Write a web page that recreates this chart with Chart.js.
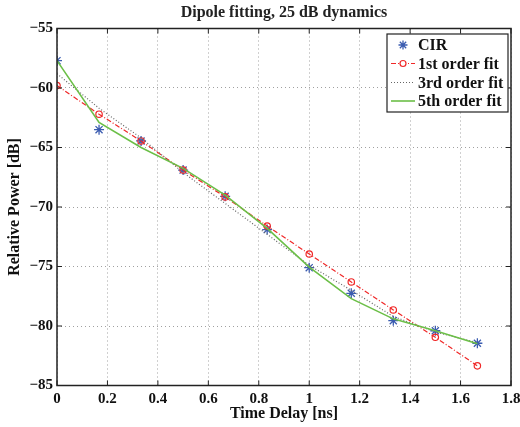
<!DOCTYPE html>
<html>
<head>
<meta charset="utf-8">
<script src="https://cdn.jsdelivr.net/npm/chart.js@4/dist/chart.umd.min.js"></script>
<style>
  html, body { margin: 0; padding: 0; background: #fff; }
  #wrap { width: 520px; height: 427px; }
</style>
</head>
<body>
<div id="wrap"><canvas id="chart" width="520" height="427"></canvas></div>
<script>
// time delays [ns]
const delays = [0, 0.1667, 0.3333, 0.5, 0.6667, 0.8333, 1.0, 1.1667, 1.3333, 1.5, 1.6667];
// relative power [dB]
const cir = [-57.7, -63.5, -64.45, -66.9, -69.1, -71.9, -75.1, -77.25, -79.55, -80.4, -81.45];
const fit1 = [-59.8, -62.2, -64.45, -66.9, -69.15, -71.6, -73.95, -76.3, -78.65, -80.95, -83.35];
const fit3 = [-58.8, -61.7, -64.2, -67.1, -69.7, -72.3, -74.9, -77.0, -79.2, -80.5, -81.4];
const fit5 = [-57.7, -62.9, -65.0, -66.75, -69.0, -71.8, -75.05, -77.7, -79.4, -80.4, -81.5];
const xTicks = [0, 0.2, 0.4, 0.6, 0.8, 1, 1.2, 1.4, 1.6, 1.8];
const yTicks = [-85, -80, -75, -70, -65, -60, -55];

const serif = '"Liberation Serif", "DejaVu Serif", serif';
const blue = '#3b5cb0';
const red = '#f02828';
const gray = '#666666';
const green = '#6cbf48';

const pts = vals => vals.map((v, i) => ({ x: delays[i], y: v }));

// frame, inward ticks and legend
const framePlugin = {
    id: 'frame',
    afterDraw(chart) {
        const { ctx, chartArea: a, scales } = chart;
        ctx.save();
        ctx.strokeStyle = '#222';
        ctx.lineWidth = 1.5;
        ctx.strokeRect(a.left, a.top, a.right - a.left, a.bottom - a.top);
        ctx.lineWidth = 1;
        ctx.beginPath();
        xTicks.forEach(t => {
            const px = scales.x.getPixelForValue(t);
            ctx.moveTo(px, a.bottom); ctx.lineTo(px, a.bottom - 5);
            ctx.moveTo(px, a.top); ctx.lineTo(px, a.top + 5);
        });
        yTicks.forEach(t => {
            const py = scales.y.getPixelForValue(t);
            ctx.moveTo(a.left, py); ctx.lineTo(a.left + 5, py);
            ctx.moveTo(a.right, py); ctx.lineTo(a.right - 5, py);
        });
        ctx.stroke();

        // legend box
        const bx = 387, by = 34, bw = 121, bh = 78;
        ctx.fillStyle = '#fff';
        ctx.fillRect(bx, by, bw, bh);
        ctx.strokeStyle = '#222';
        ctx.lineWidth = 1.2;
        ctx.strokeRect(bx, by, bw, bh);

        const rows = [
            { label: 'CIR', y: 45 },
            { label: '1st order fit', y: 63.5 },
            { label: '3rd order fit', y: 82.5 },
            { label: '5th order fit', y: 101 }
        ];
        const x0 = 391, x1 = 415, xm = 403;
        // CIR star
        ctx.strokeStyle = blue;
        ctx.lineWidth = 1.3;
        ctx.beginPath();
        const r = 4.5, y0 = rows[0].y;
        for (let k = 0; k < 4; k++) {
            const ang = k * Math.PI / 4;
            ctx.moveTo(xm - r * Math.cos(ang), y0 - r * Math.sin(ang));
            ctx.lineTo(xm + r * Math.cos(ang), y0 + r * Math.sin(ang));
        }
        ctx.stroke();
        // 1st order
        ctx.strokeStyle = red;
        ctx.lineWidth = 1.2;
        ctx.setLineDash([5, 2, 1, 2]);
        ctx.beginPath();
        ctx.moveTo(x0, rows[1].y); ctx.lineTo(x1, rows[1].y);
        ctx.stroke();
        ctx.setLineDash([]);
        ctx.fillStyle = '#fff';
        ctx.beginPath();
        ctx.arc(xm, rows[1].y, 3, 0, Math.PI * 2);
        ctx.fill(); ctx.stroke();
        // 3rd order
        ctx.strokeStyle = gray;
        ctx.setLineDash([1, 2]);
        ctx.beginPath();
        ctx.moveTo(x0, rows[2].y); ctx.lineTo(x1, rows[2].y);
        ctx.stroke();
        ctx.setLineDash([]);
        // 5th order
        ctx.strokeStyle = green;
        ctx.lineWidth = 1.6;
        ctx.beginPath();
        ctx.moveTo(x0, rows[3].y); ctx.lineTo(x1, rows[3].y);
        ctx.stroke();

        ctx.fillStyle = '#111';
        ctx.font = 'bold 16px ' + serif;
        ctx.textAlign = 'left';
        ctx.textBaseline = 'middle';
        rows.forEach(row => ctx.fillText(row.label, 418, row.y + 1));
        ctx.restore();
    }
};

new Chart(document.getElementById('chart'), {
    type: 'scatter',
    data: {
        datasets: [
            {
                label: 'CIR',
                data: pts(cir),
                showLine: false,
                pointStyle: 'star',
                pointRadius: 5,
                borderColor: blue,
                borderWidth: 1.3,
                backgroundColor: blue,
                order: 4
            },
            {
                label: '1st order fit',
                data: pts(fit1),
                showLine: true,
                borderColor: red,
                borderWidth: 1.2,
                borderDash: [5, 2, 1, 2],
                pointStyle: 'circle',
                pointRadius: 3.2,
                pointBorderWidth: 1.2,
                pointBackgroundColor: 'rgba(255,255,255,0)',
                order: 3
            },
            {
                label: '3rd order fit',
                data: pts(fit3),
                showLine: true,
                borderColor: gray,
                borderWidth: 1.2,
                borderDash: [1, 2],
                pointRadius: 0,
                order: 2
            },
            {
                label: '5th order fit',
                data: pts(fit5),
                showLine: true,
                borderColor: green,
                borderWidth: 1.6,
                pointRadius: 0,
                order: 1
            }
        ]
    },
    options: {
        responsive: false,
        animation: false,
        layout: { padding: { left: 0, right: 9, top: 0, bottom: 0 } },
        plugins: {
            legend: { display: false },
            tooltip: { enabled: false },
            title: {
                display: true,
                fullSize: false,
                text: 'Dipole fitting, 25 dB dynamics',
                color: '#222',
                font: { family: serif, size: 16, weight: 'bold' },
                padding: { top: 3, bottom: 6.3 }
            }
        },
        scales: {
            x: {
                type: 'linear',
                min: 0,
                max: 1.8,
                afterBuildTicks: s => { s.ticks = xTicks.map(v => ({ value: v })); },
                afterFit: s => { s.height = 41.5; s.paddingLeft = 0; s.paddingRight = 0; },
                grid: { color: '#a0a0a0', lineWidth: 1, drawTicks: false },
                border: { display: false, dash: [1, 3] },
                ticks: {
                    color: '#111',
                    padding: 5,
                    maxRotation: 0,
                    font: { family: serif, size: 15, weight: 'bold' },
                    callback: v => String(+v.toFixed(1))
                },
                title: {
                    display: true,
                    text: 'Time Delay [ns]',
                    color: '#111',
                    font: { family: serif, size: 16, weight: 'bold' },
                    padding: { top: 0, bottom: 4 }
                }
            },
            y: {
                type: 'linear',
                min: -85,
                max: -55,
                afterBuildTicks: s => { s.ticks = yTicks.map(v => ({ value: v })); },
                afterFit: s => { s.width = 57; s.paddingTop = 0; s.paddingBottom = 0; },
                grid: { color: '#a0a0a0', lineWidth: 1, drawTicks: false },
                border: { display: false, dash: [1, 3] },
                ticks: {
                    color: '#111',
                    padding: 4,
                    font: { family: serif, size: 15, weight: 'bold' },
                    callback: v => String(v).replace('-', '\u2212')
                },
                title: {
                    display: true,
                    text: 'Relative Power [dB]',
                    color: '#111',
                    font: { family: serif, size: 16, weight: 'bold' },
                    padding: { top: 5, bottom: 4 }
                }
            }
        }
    },
    plugins: [framePlugin]
});
</script>
</body>
</html>
